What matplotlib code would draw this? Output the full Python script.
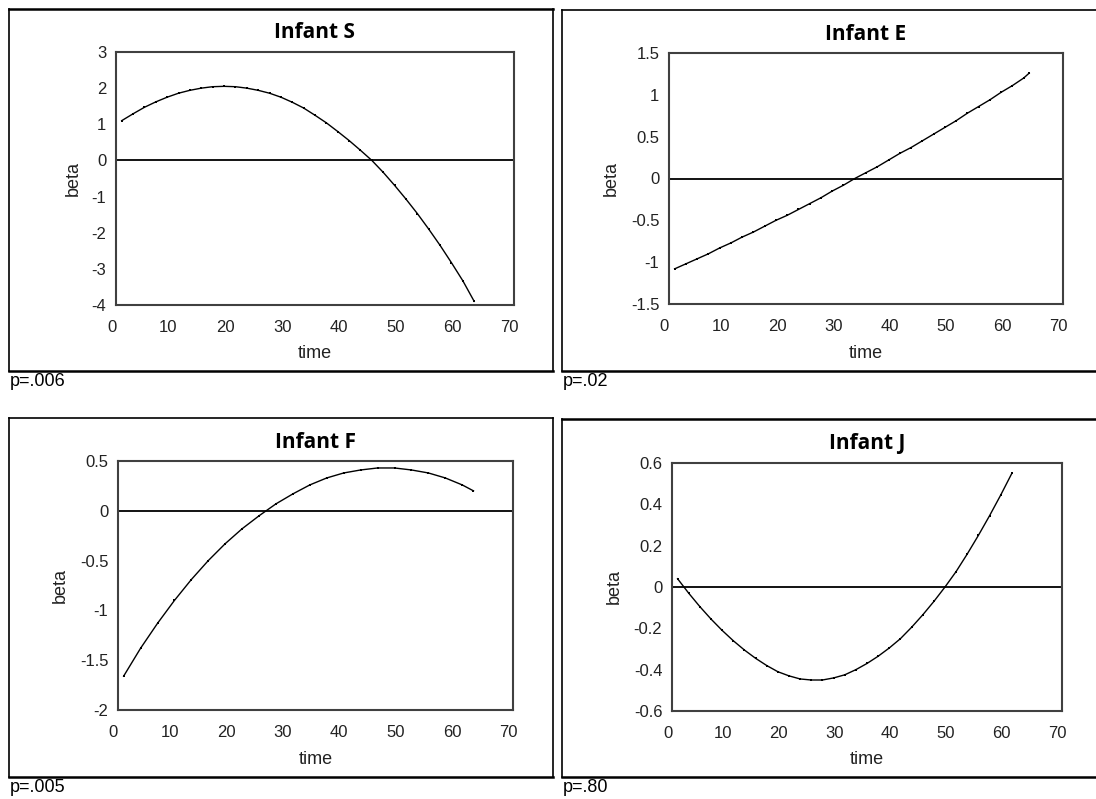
import matplotlib
matplotlib.use("Agg")
import matplotlib.pyplot as plt
from matplotlib.lines import Line2D
import matplotlib.transforms as mtransforms

# ---------------- data ----------------
titles = ["Infant S", "Infant E", "Infant F", "Infant J"]
p_labels = ["p=.006", "p=.02", "p=.005", "p=.80"]

time_S = [1, 3, 5, 7, 9, 11, 13, 15, 17, 19, 21, 23, 25, 27, 29, 31, 33, 35, 37,
          39, 41, 43, 45, 47, 49, 51, 53, 55, 57, 59, 61, 63]
beta_S = [1.10, 1.29, 1.47, 1.62, 1.75, 1.86, 1.94, 2.00, 2.04, 2.05, 2.04, 2.00,
          1.94, 1.86, 1.75, 1.61, 1.45, 1.25, 1.04, 0.80, 0.55, 0.28, 0.00, -0.33,
          -0.69, -1.07, -1.47, -1.90, -2.35, -2.83, -3.33, -3.90]

time_E = [1, 3, 5, 7, 9, 11, 13, 15, 17, 19, 21, 23, 25, 27, 29, 31, 33, 35, 37,
          39, 41, 43, 45, 47, 49, 51, 53, 55, 57, 59, 61, 63, 64]
beta_E = [-1.08, -1.02, -0.96, -0.90, -0.83, -0.77, -0.70, -0.64, -0.57, -0.50,
          -0.44, -0.37, -0.30, -0.23, -0.15, -0.08, 0.00, 0.07, 0.14, 0.22, 0.30,
          0.37, 0.45, 0.53, 0.61, 0.69, 0.78, 0.86, 0.94, 1.03, 1.11, 1.20, 1.26]

time_F = [1, 4, 7, 10, 13, 16, 19, 22, 25, 28, 31, 34, 37, 40, 43, 46, 49, 52,
          55, 58, 61, 63]
beta_F = [-1.66, -1.38, -1.13, -0.90, -0.69, -0.50, -0.33, -0.18, -0.05, 0.07,
          0.17, 0.26, 0.33, 0.38, 0.41, 0.43, 0.43, 0.41, 0.38, 0.33, 0.26, 0.20]

time_J = [1, 3, 5, 7, 9, 11, 13, 15, 17, 19, 21, 23, 25, 27, 29, 31, 33, 35, 37,
          39, 41, 43, 45, 47, 49, 51, 53, 55, 57, 59, 61]
beta_J = [0.04, -0.03, -0.095, -0.155, -0.21, -0.26, -0.305, -0.345, -0.38, -0.41,
          -0.43, -0.445, -0.45, -0.45, -0.44, -0.425, -0.40, -0.37, -0.335, -0.295,
          -0.25, -0.195, -0.135, -0.07, 0.0, 0.075, 0.16, 0.25, 0.345, 0.445, 0.55]

x_ticks = [0, 10, 20, 30, 40, 50, 60, 70]
y_ticks_S = [-4, -3, -2, -1, 0, 1, 2, 3]
y_ticks_E = [-1.5, -1, -0.5, 0, 0.5, 1, 1.5]
y_ticks_F = [-2, -1.5, -1, -0.5, 0, 0.5]
y_ticks_J = [-0.6, -0.4, -0.2, 0, 0.2, 0.4, 0.6]
y_ticklabels_S = ["-4", "-3", "-2", "-1", "0", "1", "2", "3"]
y_ticklabels_E = ["-1.5", "-1", "-0.5", "0", "0.5", "1", "1.5"]
y_ticklabels_F = ["-2", "-1.5", "-1", "-0.5", "0", "0.5"]
y_ticklabels_J = ["-0.6", "-0.4", "-0.2", "0", "0.2", "0.4", "0.6"]

series = [(time_S, beta_S, y_ticks_S, y_ticklabels_S),
          (time_E, beta_E, y_ticks_E, y_ticklabels_E),
          (time_F, beta_F, y_ticks_F, y_ticklabels_F),
          (time_J, beta_J, y_ticks_J, y_ticklabels_J)]

# ---------------- layout (pixels) ----------------
W, H = 1096, 799
fig = plt.figure(figsize=(W / 100, H / 100), dpi=100)
fig.patch.set_facecolor("white")

# axes rectangles: left, top, right, bottom
axes_px = [(116, 52, 514, 305), (669, 53, 1063, 304),
           (118, 461, 513, 710), (672, 463, 1062, 711)]
# panel boxes: left, top, right, bottom
box_px = [(9, 9, 553, 371), (562, 10, 1100, 371),
          (9, 418, 553, 777), (562, 419, 1100, 777)]
title_y = [33, 35, 442, 444]
beta_off = [43, 58, 58, 58]

def fx(x):
    return x / W

def fy(y):
    return 1 - y / H

tick_font = dict(family="Liberation Sans", size=12)
shift = mtransforms.ScaledTranslation(-4.5 / 100, 0, fig.dpi_scale_trans)

for i, (t, b, yt, ytl) in enumerate(series):
    l, tp, r, bt = axes_px[i]
    ax = fig.add_axes([fx(l), fy(bt), (r - l) / W, (bt - tp) / H])
    ax.plot(t, b, color="black", lw=1.0, marker="s", markersize=1.9,
            markeredgewidth=0, zorder=3)
    ax.axhline(0, color="black", lw=1.3, zorder=2)
    ax.set_xlim(0, 70)
    ax.set_ylim(yt[0], yt[-1])
    ax.set_xticks(x_ticks)
    ax.set_xticklabels([str(v) for v in x_ticks], **tick_font, color="#222222")
    ax.set_yticks(yt)
    ax.set_yticklabels(ytl, **tick_font, color="#222222")
    ax.tick_params(length=0, pad=7)
    ax.tick_params(axis="x", pad=11)
    for lab in ax.get_xticklabels():
        lab.set_transform(lab.get_transform() + shift)
    for s in ax.spines.values():
        s.set_color("#404040")
        s.set_linewidth(1.5)
    # title
    cx = (l + r) / 2
    fig.text(fx(cx), fy(title_y[i]), titles[i], ha="center", va="center",
             family="Open Sans", weight="bold", fontsize=15)
    # axis labels
    fig.text(fx(cx), fy(bt + 49), "time", ha="center", va="center",
             family="Liberation Sans", fontsize=13, color="#222222")
    fig.text(fx(l - beta_off[i]), fy((tp + bt) / 2), "beta", ha="center",
             va="center", rotation=90, family="Liberation Sans", fontsize=13,
             color="#222222")
    # panel box
    bl, btop, br, bb = box_px[i]
    fig.add_artist(Line2D([fx(bl), fx(bl)], [fy(btop), fy(bb)], color="black", lw=1.2))
    fig.add_artist(Line2D([fx(bl), fx(br)], [fy(btop), fy(btop)], color="black",
                          lw=1.8 if i in (0, 3) else 1.2))
    fig.add_artist(Line2D([fx(br), fx(br)], [fy(btop), fy(bb)], color="black", lw=1.2))
    fig.add_artist(Line2D([fx(bl), fx(br)], [fy(bb), fy(bb)], color="black", lw=1.8))
    # p-value
    fig.text(fx(bl + 1), fy(bb + 11), p_labels[i], ha="left", va="center",
             family="Liberation Sans", fontsize=13, color="black")

fig.savefig("out.png", dpi=100)
